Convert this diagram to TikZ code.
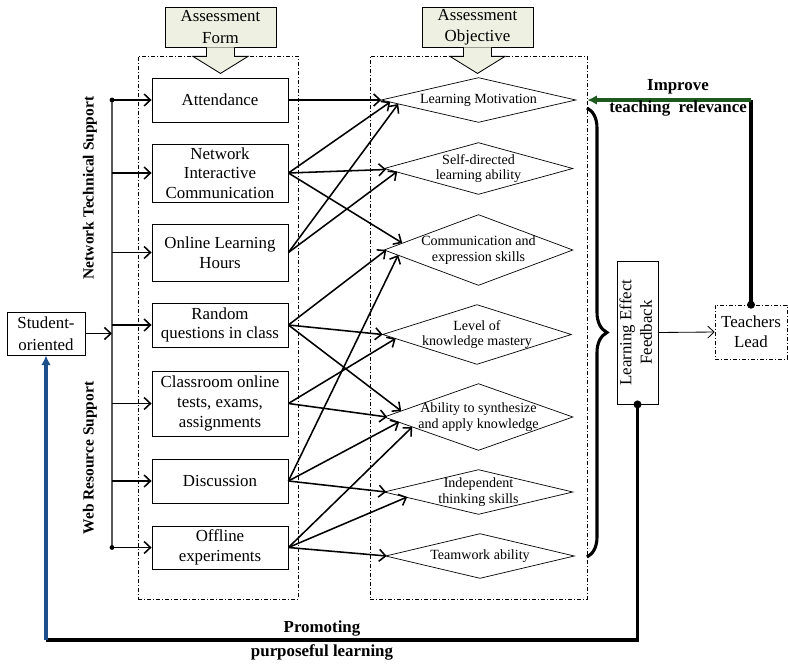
\documentclass[tikz,border=0pt]{standalone}
\usepackage{fontspec}
\setmainfont{Liberation Serif}
\usetikzlibrary{arrows.meta,calc,decorations.pathreplacing}
\definecolor{headfill}{HTML}{EEF0E1}
\definecolor{loopgreen}{HTML}{1E5A1E}
\definecolor{loopblue}{HTML}{1F4E8C}

\begin{document}
\begin{tikzpicture}[x=0.25mm, y=-0.25mm,
	every node/.style={font=\fontsize{12}{14}\selectfont, align=center, inner sep=1pt},
	>={Straight Barb[length=1.6mm, width=3mm]},
	formbox/.style={draw, line width=0.6pt, minimum width=34mm},
	goal/.style={font=\fontsize{10}{11}\selectfont, minimum width=47mm, inner sep=0pt},
	area/.style={draw, line width=0.4pt, dash pattern=on 1mm off 0.5mm on 0.25mm off 0.5mm},
	headbox/.style={draw, fill=headfill, line width=0.6pt, minimum width=27.75mm, minimum height=10mm, font=\fontsize{12}{15}\selectfont},
	link/.style={->, line width=1.1pt},
	feedline/.style={line width=2.5pt},
	sidelabel/.style={rotate=90, font=\fontsize{11}{13}\selectfont\bfseries},
	boldlabel/.style={font=\fontsize{12}{15.5}\selectfont\bfseries}]
	\useasboundingbox (0,0) rectangle (788,663);

	% dash-dotted areas and their headings
	\node[area, minimum width=40mm, minimum height=135.75mm] (formarea) at (218,327.5) {};
	\node[area, minimum width=54.25mm, minimum height=135.75mm] (objarea) at (478.5,327.5) {};
	\node[headbox] (formhead) at (220.5,27) {Assessment\\Form};
	\node[headbox] (objhead) at (477.5,27) {Assessment\\Objective};
	\foreach \h in {formhead,objhead}
		\filldraw[fill=headfill, line width=0.6pt] ($(\h.south)+(-14,0)$) -- ++(0,9) -- ++(-13.5,0)
			-- ($(\h.south)+(0,26)$) -- ++(27.5,-17) -- ++(-13.5,0) -- ++(0,-9);

	% assessment forms
	\node[formbox, minimum height=11mm] (att) at (220,100) {Attendance};
	\node[formbox, minimum height=14.5mm] (nic) at (220,173) {Network\\Interactive\\Communication};
	\node[formbox, minimum height=14.25mm] (olh) at (220,252.5) {Online Learning\\Hours};
	\node[formbox, minimum height=11mm] (rqc) at (220,325) {Random\\questions in class};
	\node[formbox, minimum height=16.25mm] (cot) at (220,403.5) {Classroom online\\tests, exams,\\assignments};
	\node[formbox, minimum height=11mm] (dis) at (220,481) {Discussion};
	\node[formbox, minimum height=10.75mm] (off) at (220,547.5) {Offline\\experiments};

	% assessment objectives
	\node[goal, minimum width=48.5mm, minimum height=11mm] (lm) at (478.5,100) {Learning Motivation};
	\node[goal, minimum height=12.75mm] (sdl) at (478.5,168.5) {Self-directed\\learning ability};
	\node[goal, minimum height=17.5mm] (ces) at (478.5,250) {Communication and\\expression skills};
	\node[goal, minimum height=14.75mm] (lkm) at (477,334.5) {Level of\\knowledge mastery};
	\node[goal, minimum height=16.5mm] (asa) at (478.5,417) {Ability to synthesize\\and apply knowledge};
	\node[goal, minimum height=11mm] (its) at (478.5,492) {Independent\\thinking skills};
	\node[goal, minimum height=11mm] (twa) at (480,556) {Teamwork ability};
	\foreach \g in {lm,sdl,ces,lkm,asa,its,twa}
		\draw[line width=0.5pt] (\g.west) -- (\g.north) -- (\g.east) -- (\g.south) -- cycle;

	% form -> objective
	\foreach \f/\g/\d in {att/lm/{0,0}, nic/lm/{9,2}, nic/sdl/{2,1}, nic/ces/{18,-7},
			olh/lm/{17,4}, olh/sdl/{13,3}, rqc/ces/{2,0}, rqc/lkm/{0,0}, rqc/asa/{17,-6},
			cot/lkm/{13,4}, cot/asa/{3,0}, dis/ces/{14,5}, dis/asa/{15,5}, dis/its/{2,0},
			off/asa/{28,10}, off/its/{23,5}, off/twa/{1,0}}
		\draw[link] (\f.east) -- ($(\g.west)+(\d)$);

	% support bus
	\node[draw, line width=0.6pt, minimum width=19.5mm, minimum height=10.75mm, font=\fontsize{12}{16}\selectfont] (stud) at (46,333.5) {Student-\\oriented};
	\coordinate (bustop) at (112,100);
	\coordinate (busbot) at (112,547.5);
	\draw[line width=1pt, gray!70!black] (bustop) -- (busbot);
	\fill (bustop) circle (0.6mm);
	\fill (busbot) circle (0.6mm);
	\foreach \f in {att,nic,olh,rqc,cot,dis,off}
		\draw[link] (bustop |- \f.west) -- (\f.west);
	\draw[link] (stud.east) -- (stud.east -| bustop);
	\node[sidelabel] (nts) at (90,188) {Network Technical Support};
	\node[sidelabel] (wrs) at (90,458) {Web Resource Support};

	% feedback
	\coordinate (bracetop) at (587,108);
	\coordinate (bracebot) at (587,557);
	\draw[line width=2.2pt, decorate, decoration={brace, amplitude=5mm}] (bracetop) -- (bracebot);
	\node[draw, line width=0.6pt, inner sep=0pt, minimum width=10.25mm, minimum height=35.75mm, font=\fontsize{12}{14.5}\selectfont] (fb) at (637.5,332.5)
		{\rotatebox{90}{\begin{tabular}{@{}c@{}}Learning Effect\\Feedback\end{tabular}}};
	\node[area, minimum width=18mm, minimum height=13.5mm] (tl) at (751,332) {Teachers\\Lead};
	\draw[link, line width=0.6pt] (fb.east) -- (tl.west);

	\draw[feedline] (tl.north) -- (tl.north |- lm.east);
	\draw[feedline, loopgreen, -{Latex[length=2.4mm, width=2.4mm]}] (tl.north |- lm.east) -- (objarea.east |- lm.east);
	\fill (tl.north) circle (1mm);
	\node[boldlabel] (imp) at (678,98) {Improve\\teaching\ \ relevance};

	\coordinate (lowcorner) at (46,640);
	\draw[feedline] (fb.south) |- (lowcorner);
	\draw[feedline, loopblue, -{Latex[length=2.4mm, width=2.4mm]}] (lowcorner) -- (stud.south);
	\fill (fb.south) circle (1mm);
	\node[boldlabel] (pro1) at (322,628) {Promoting};
	\node[boldlabel] (pro2) at (322,652) {purposeful learning};
\end{tikzpicture}
\end{document}
